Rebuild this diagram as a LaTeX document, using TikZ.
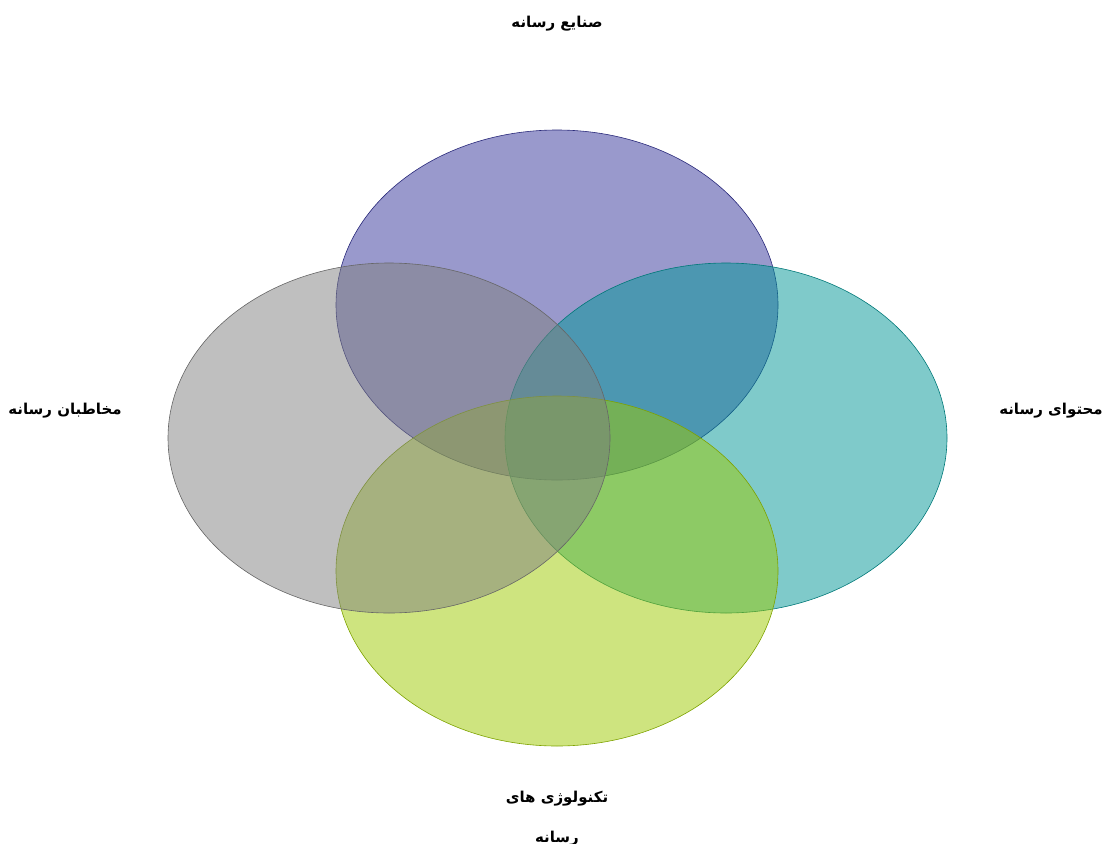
\documentclass[tikz,border=0pt]{standalone}
\usepackage{fontspec}
\newfontfamily\arabicfont[Script=Arabic]{DejaVu Sans}
\TeXXeTstate=1
\definecolor{topblue}{RGB}{51,51,153}
\definecolor{sidegray}{RGB}{128,128,128}
\definecolor{sideteal}{RGB}{0,150,150}
\definecolor{botgreen}{RGB}{157,202,0}
\begin{document}
\begin{tikzpicture}[x=1pt, y=-1pt,
    venn/.style={fill=#1, fill opacity=0.5, draw=#1!80!black, line width=0.6pt},
    lbl/.style={font=\arabicfont\bfseries\fontsize{15}{18}\selectfont, align=center}]
    \useasboundingbox (0,0) rectangle (1102,843);
    % four sets
    \path[venn=topblue] (557,305) ellipse [x radius=221, y radius=175];
    \path[venn=sideteal] (726,438) ellipse [x radius=221, y radius=175];
    \path[venn=botgreen] (557,571) ellipse [x radius=221, y radius=175];
    \path[venn=sidegray] (389,438) ellipse [x radius=221, y radius=175];

    \node[lbl] (industry) at (557,24) {\beginR صنایع رسانه\endR};
    \node[lbl] (audience) at (65,411) {\beginR مخاطبان رسانه\endR};
    \node[lbl] (content) at (1051,411) {\beginR محتوای رسانه\endR};
    \node[lbl, anchor=north] (tech) at (557,788)
        {\beginR تکنولوژی های\endR\\[22pt]\beginR رسانه\endR};
\end{tikzpicture}
\end{document}
